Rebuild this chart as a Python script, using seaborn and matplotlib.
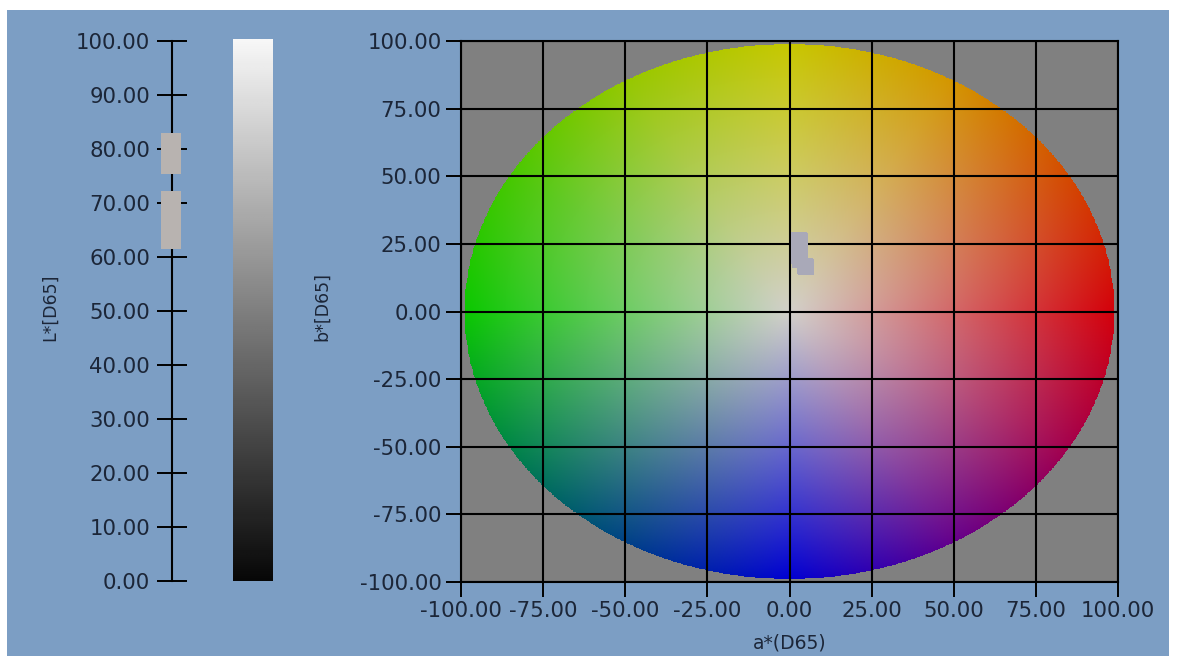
import numpy as np
import pandas as pd
import matplotlib
matplotlib.use("Agg")
import matplotlib.pyplot as plt
from matplotlib.patches import Rectangle
import seaborn as sns

# Measured samples in CIELAB (D65)
sample_L = [63.3, 64.8, 66.3, 67.8, 69.3, 70.4, 77.2, 78.6, 80.0, 81.2]
sample_a = [3.0, 3.2, 4.6, 5.0, 3.1, 2.9, 3.0, 2.8, 3.1, 3.0]
sample_b = [24.0, 19.0, 17.0, 16.3, 21.5, 26.6, 25.0, 22.5, 26.0, 20.5]

L_ticks = [0, 10, 20, 30, 40, 50, 60, 70, 80, 90, 100]
ab_ticks = [-100, -75, -50, -25, 0, 25, 50, 75, 100]

samples = pd.DataFrame({"L": sample_L, "a": sample_a, "b": sample_b})

W, H = 1179, 659
BG = "#7c9ec4"
TXT = "#1c2638"
MARK_MAIN = "#a9a9b8"
MARK_L = "#b8b3b0"
TICK_FS = 15.3

sns.set_style("ticks")
plt.rcParams["font.family"] = ["DejaVu Sans"]

fig = plt.figure(figsize=(W / 100, H / 100), dpi=100, facecolor="white")
fig.patches.append(Rectangle((7 / W, 1 - 656 / H), (1169 - 7) / W, (656 - 10) / H,
                             transform=fig.transFigure, facecolor=BG,
                             edgecolor="none", zorder=-10))

# ---- a*/b* chromaticity plane -------------------------------------------
ax = fig.add_axes([461 / W, 1 - 582 / H, (1118 - 461) / W, (582 - 41) / H])
ax.set_facecolor("#808080")

# hue wheel: edge colour by hue angle, blended to a near-white centre
hue_deg = np.arange(0, 361, 30)
hue_rgb = np.array([
    (212, 0, 10), (212, 72, 0), (212, 150, 0), (200, 200, 0),
    (150, 200, 0), (70, 200, 0), (10, 200, 0), (0, 135, 70),
    (0, 65, 135), (0, 0, 210), (100, 0, 140), (165, 0, 75),
    (212, 0, 10)], dtype=float) / 255.0
centre = np.array([210, 208, 202]) / 255.0

n = 900
g = np.linspace(-100, 100, n)
A, B = np.meshgrid(g, g)
R = np.hypot(A, B)
ang = np.degrees(np.arctan2(B, A)) % 360
edge = np.stack([np.interp(ang, hue_deg, hue_rgb[:, k]) for k in range(3)], axis=-1)
t = np.clip(R / 99.0, 0, 1)[..., None]
rgb = centre * (1 - t) + edge * t
alpha = (R <= 99.0).astype(float)[..., None]
img = np.concatenate([rgb, alpha], axis=-1)
ax.imshow(img, extent=(-100, 100, -100, 100), origin="lower",
          interpolation="nearest", aspect="auto", zorder=0)

ax.set_xlim(-100, 100)
ax.set_ylim(-100, 100)
ax.set_xticks(ab_ticks)
ax.set_yticks(ab_ticks)
ax.set_xticklabels([f"{v:.2f}" for v in ab_ticks])
ax.set_yticklabels([f"{v:.2f}" for v in ab_ticks])
ax.grid(True, color="black", linewidth=1.5)
ax.tick_params(direction="out", length=10.5, width=1.4, color="black",
               labelsize=TICK_FS, labelcolor=TXT, pad=3.5)
for s in ax.spines.values():
    s.set_color("black")
    s.set_linewidth(1.5)

sns.scatterplot(data=samples, x="a", y="b", ax=ax, marker="s", s=130,
                color=MARK_MAIN, linewidth=0, zorder=4, legend=False)
ax.set_xlabel("")
ax.set_ylabel("")

# ---- L* axis ---------------------------------------------------------------
axL = fig.add_axes([172 / W, 1 - 581 / H, 20 / W, (581 - 41) / H])
axL.patch.set_visible(False)
for side in ["top", "right", "bottom"]:
    axL.spines[side].set_visible(False)
axL.spines["left"].set_color("black")
axL.spines["left"].set_linewidth(1.5)
axL.set_xlim(0, 1)
axL.set_xticks([])
axL.set_ylim(0, 100)
axL.set_yticks(L_ticks)
axL.set_yticklabels([f"{v:.2f}" for v in L_ticks])
axL.tick_params(axis="y", direction="inout", length=21.6, width=1.4,
                color="black", labelsize=TICK_FS, labelcolor=TXT, pad=5)
samples["x0"] = -0.05
sns.scatterplot(data=samples, x="x0", y="L", ax=axL, marker="s", s=228,
                color=MARK_L, linewidth=0, zorder=4, clip_on=False, legend=False)
axL.set_xlabel("")
axL.set_ylabel("")

# ---- lightness scale -------------------------------------------------------
axC = fig.add_axes([233 / W, 1 - 581 / H, 40 / W, (581 - 39) / H])
grad = np.linspace(0.03, 0.97, 256)[:, None]
axC.imshow(grad, cmap="gray", vmin=0, vmax=1, aspect="auto",
           extent=(0, 1, 0, 100), origin="lower")
axC.axis("off")

# ---- axis titles -----------------------------------------------------------
fig.text(50 / W, 1 - 307 / H, "L*[D65]", rotation=90, ha="center", va="center",
         fontsize=12.5, color=TXT)
fig.text(322 / W, 1 - 307 / H, "b*[D65]", rotation=90, ha="center", va="center",
         fontsize=12.5, color=TXT)
fig.text(790 / W, 1 - 643 / H, "a*(D65)", ha="center", va="center",
         fontsize=13.5, color=TXT)

fig.savefig("out.png", dpi=100, facecolor=fig.get_facecolor())
